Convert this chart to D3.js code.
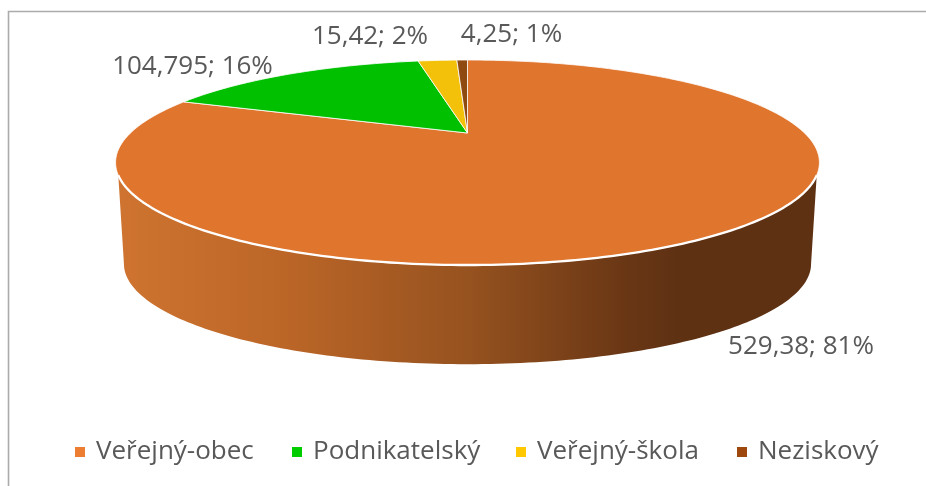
<!DOCTYPE html>
<html><head><meta charset="utf-8">
<script src="https://cdn.jsdelivr.net/npm/d3@7"></script>
<style>html,body{margin:0;padding:0;background:#fff}svg{display:block;filter:blur(0.45px)}text{font-family:"Open Sans",sans-serif;fill:#595959}</style>
</head><body><svg id="c" width="926" height="486"></svg>
<script>
const categories=["Veřejný-obec","Podnikatelský","Veřejný-škola","Neziskový"];
const values=[529.38,104.795,15.42,4.25];
const percents=[81,16,2,1];
const valueLabels=["529,38","104,795","15,42","4,25"];
const colors=["#E0752E","#00C000","#F3C00A","#8E4A10"];
const legendColors=["#ED7D31","#00CC00","#FFC800","#9E480E"];
const labelPos=[[801,347],[192.5,67],[370,37],[511.5,35]];
const legendMarkX=[75,292,516,737];
const legendTextX=[96,313,537,758];

const svg=d3.select("#c");
const T=Math.PI*2;
const apex=[467.5,133];
// perspective projection of a disc
function projector(cx,ay,b,c,d){return a=>{const u=Math.sin(a),v=-Math.cos(a),w=1+c*v;return [cx+d*u/w,ay+b*v/w];};}
const topP=projector(apex[0],apex[1],94,-0.288,337);
const botP=projector(467.5,235,92,-0.288,329);
const arcPts=(p,a0,a1)=>{const n=Math.max(2,Math.ceil(Math.abs(a1-a0)*60));return d3.range(n+1).map(i=>p(a0+(a1-a0)*i/n));};
const line=d3.line();

svg.append("path").attr("d","M8.5,486V11.5H926").attr("fill","none").attr("stroke","#ababab").attr("stroke-width",1.6);

const defs=svg.append("defs");
const g=defs.append("linearGradient").attr("id","side").attr("gradientUnits","userSpaceOnUse")
 .attr("x1",118).attr("x2",820).attr("y1",0).attr("y2",0);
[[0,"#CF7430"],[0.25,"#BA6527"],[0.5,"#96521F"],[0.72,"#6A3715"],[0.8,"#5E3113"],[1,"#5E3113"]]
 .forEach(s=>g.append("stop").attr("offset",s[0]).attr("stop-color",s[1]));

// side wall: silhouette from the top rim's widest part to the widest part of the base
const rimA0=Math.PI*0.63, rimA1=Math.PI*1.37;
const baseA0=Math.PI*0.593, baseA1=Math.PI*1.407;
const frontTop=arcPts(topP,rimA0,rimA1);
const frontBot=arcPts(botP,baseA0,baseA1).reverse();
svg.append("path").attr("d",line(frontTop.concat(frontBot))+"Z").attr("fill","url(#side)");

// top slices
const pie=d3.pie().sort(null).startAngle(0).endAngle(T);
const arcs=pie(values);
svg.selectAll("path.slice").data(arcs).join("path").attr("class","slice")
 .attr("d",d=>line([apex].concat(arcPts(topP,d.startAngle,d.endAngle)))+"Z")
 .attr("fill",(d,i)=>colors[i]).attr("stroke","#fff").attr("stroke-width",0.8).attr("stroke-linejoin","round");
// white rim along the front
svg.append("path").attr("d",line(arcPts(topP,rimA0,rimA1))).attr("fill","none").attr("stroke","#fff").attr("stroke-width",2.3);

// data labels
svg.selectAll("text.lab").data(categories).join("text").attr("class","lab")
 .attr("x",(d,i)=>labelPos[i][0]).attr("y",(d,i)=>labelPos[i][1])
 .attr("dominant-baseline","middle").attr("text-anchor","middle").attr("font-size",26)
 .text((d,i)=>`${valueLabels[i]}; ${percents[i]}%`);

// legend
svg.selectAll("rect.lg").data(categories).join("rect").attr("class","lg")
 .attr("x",(d,i)=>legendMarkX[i]).attr("y",447).attr("width",10).attr("height",10).attr("fill",(d,i)=>legendColors[i]);
svg.selectAll("text.lt").data(categories).join("text").attr("class","lt")
 .attr("x",(d,i)=>legendTextX[i]).attr("y",452).attr("dominant-baseline","middle").attr("font-size",26)
 .text(d=>d);
</script></body></html>
